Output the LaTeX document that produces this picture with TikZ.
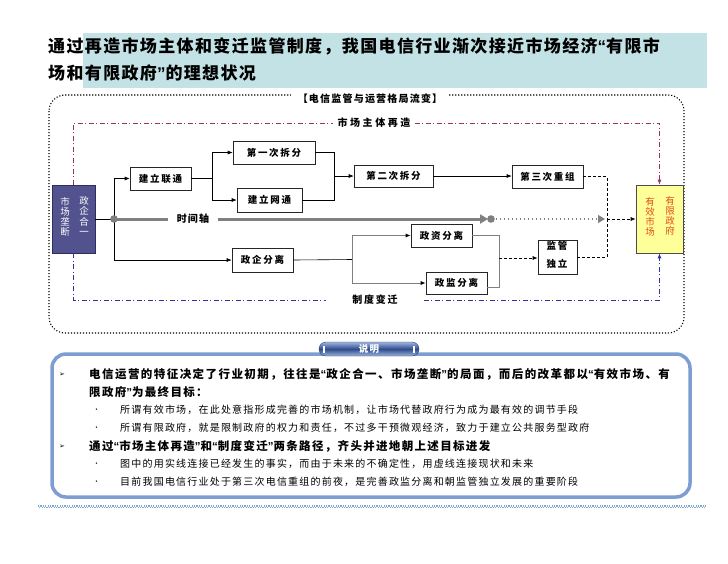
\documentclass[tikz,border=0pt]{standalone}
\usepackage{fontspec}
\setmainfont{Noto Sans CJK SC}
\newfontfamily\fTitle[LetterSpace=8]{Noto Sans CJK SC}
\newfontfamily\fBox[LetterSpace=18]{Noto Sans CJK SC}
\newfontfamily\fWide[LetterSpace=26]{Noto Sans CJK SC}
\newfontfamily\fHead[LetterSpace=12]{Noto Sans CJK SC}
\newfontfamily\fBoldA[LetterSpace=12.5]{Noto Sans CJK SC}
\newfontfamily\fBoldB[LetterSpace=11.5]{Noto Sans CJK SC}
\newfontfamily\fSub[LetterSpace=12]{Noto Sans CJK SC}
\newfontfamily\fPlain{Noto Sans CJK SC}
\newfontfamily\fSym{DejaVu Sans}
\newfontfamily\fQuote{Liberation Sans}
\newcommand{\myqo}{{\fQuote “}}
\newcommand{\myqc}{{\fQuote ”}}
\usetikzlibrary{arrows.meta}
\definecolor{titlebar}{HTML}{C3E2E6}
\definecolor{monofill}{HTML}{52528E}
\definecolor{monodraw}{HTML}{2E2E5E}
\definecolor{goalfill}{HTML}{FFFF99}
\definecolor{goaltext}{HTML}{E04A1A}
\definecolor{pline}{HTML}{993366}
\definecolor{bline}{HTML}{333399}
\definecolor{boxblue}{HTML}{7E9DD3}
\definecolor{pilltop}{HTML}{9FB4DE}
\definecolor{pillmid}{HTML}{2F4C8C}
\definecolor{lineblue}{HTML}{7FAAD8}
\definecolor{axisgray}{HTML}{808080}
\tikzset{
  box/.style={draw=black!85, fill=white, line width=0.6pt, inner sep=0pt,
    font=\fBox\bfseries\fontsize{9.5}{11}\selectfont},
  arr/.style={-{Latex[length=5pt,width=4pt]}, line width=0.6pt},
  garr/.style={draw=axisgray, line width=0.8pt, -{Latex[length=5pt,width=4pt,color=black]}},
  gline/.style={draw=axisgray, line width=0.8pt},
  dline/.style={dashed, dash pattern=on 3pt off 2pt, line width=0.7pt},
  dd/.style={line width=0.9pt, dash pattern=on 5pt off 2.5pt on 1pt off 2.5pt},
  framedot/.style={line width=1.1pt, dash pattern=on 1.1pt off 1.9pt, line cap=butt},
  vtext/.style={inner sep=0pt, align=center, font=\fPlain\fontsize{9.5}{10.2}\selectfont},
  ltext/.style={anchor=west, inner sep=0pt},
}
\begin{document}
\begin{tikzpicture}[x=1pt,y=-1pt]
\useasboundingbox (0,0) rectangle (728,563);
\fill[white] (0,0) rectangle (728,563);

% title
\fill[titlebar] (83,33) rectangle (707,88);
\node[ltext, font=\fTitle\bfseries\fontsize{17}{20}\selectfont] (t1) at (48,46) {通过再造市场主体和变迁监管制度，我国电信行业渐次接近市场经济\myqo 有限市};
\node[ltext, font=\fTitle\bfseries\fontsize{17}{20}\selectfont] (t2) at (48,73) {场和有限政府\myqc 的理想状况};

% outer frame
\draw[framedot, rounded corners=16pt] (49,95) rectangle (684,333);
\node[fill=white, inner xsep=7pt, inner ysep=1pt, font=\fHead\bfseries\fontsize{10}{12}\selectfont] (head) at (370,99) {【电信监管与运营格局流变】};

% start and goal
\node[draw=monodraw, fill=monofill, line width=0.6pt, minimum width=43pt, minimum height=68pt, inner sep=0pt] (mono) at (73.5,219) {};
\node[vtext, text=white] (mono1) at (65,217) {市\\场\\垄\\断};
\node[vtext, text=white] (mono2) at (84,216) {政\\企\\合\\一};
\node[draw=black!70, fill=goalfill, line width=0.6pt, minimum width=47pt, minimum height=68pt, inner sep=0pt] (goal) at (659.5,219) {};
\node[vtext, text=goaltext] (goal1) at (650,217) {有\\效\\市\\场};
\node[vtext, text=goaltext] (goal2) at (670,216) {有\\限\\政\\府};

% path labels and dash-dot frames
\node[inner xsep=4pt, inner ysep=1pt, font=\fWide\bfseries\fontsize{10}{12}\selectfont] (m1) at (374,123) {市场主体再造};
\node[inner xsep=26pt, inner ysep=1pt, font=\fBox\bfseries\fontsize{10}{12}\selectfont] (m2) at (375,300) {制度变迁};
\draw[dd, pline] (mono.north) |- (m1.west);
\draw[dd, pline, -{Latex[length=5pt,width=4pt]}] (m1.east) -| (goal.north);
\draw[dd, bline] (mono.south) |- (m2.west);
\draw[dd, bline, -{Latex[length=5pt,width=4pt]}] (m2.east) -| (goal.south);

% boxes
\node[box, minimum width=61pt, minimum height=23pt] (link) at (160.5,178.5) {建立联通};
\node[box, minimum width=82pt, minimum height=23pt] (split1) at (274,152.5) {第一次拆分};
\node[box, minimum width=65pt, minimum height=24pt] (net) at (269.5,200) {建立网通};
\node[box, minimum width=79pt, minimum height=22pt] (split2) at (393.5,176) {第二次拆分};
\node[box, minimum width=71pt, minimum height=23pt] (reorg) at (547.5,176.5) {第三次重组};
\node[box, minimum width=61pt, minimum height=24pt] (sep1) at (262.5,260) {政企分离};
\node[box, minimum width=61pt, minimum height=23pt] (sep2) at (441.5,235.5) {政资分离};
\node[box, minimum width=61pt, minimum height=22pt] (sep3) at (456.5,283) {政监分离};
\node[box, minimum width=39pt, minimum height=34pt] (indep) at (557.5,257) {};
\node[inner sep=0pt, font=\fBox\bfseries\fontsize{9.5}{11}\selectfont] (indep1) at (557,246) {监管};
\node[inner sep=0pt, font=\fBox\bfseries\fontsize{9.5}{11}\selectfont] (indep2) at (557,264) {独立};

% junctions
\coordinate (dot) at (114,219);
\coordinate (b1) at (212,178.5);
\coordinate (b2) at (334,176);
\coordinate (b3) at (352,259.5);
\coordinate (b4) at (499,258);
\coordinate (j) at (607,219);
\coordinate (dot2) at (491,219);

% solid connectors
\draw[line width=0.6pt] (mono.east) -- (dot);
\draw[arr] (dot) |- (link.west);
\draw[arr] (dot) |- (sep1.west);
\draw[line width=0.6pt] (link.east) -- (b1);
\draw[arr] (b1) |- (split1.west);
\draw[arr] (b1) |- (net.west);
\draw[line width=0.6pt] (split1.east) -| (b2);
\draw[line width=0.6pt] (net.east) -| (b2);
\draw[arr] (b2) -- (split2.west);
\draw[arr] (split2.east) -- (split2.east -| reorg.west);
\draw[line width=0.6pt] (sep1.east) -- (b3);
\draw[garr] (b3) |- (sep2.west);
\draw[garr] (b3) |- (sep3.west);
\draw[gline] (sep2.east) -| (b4);
\draw[gline] ([yshift=-4pt]sep3.east) -| (b4);

% dashed (future) connectors
\draw[dline] (reorg.east) -| (j);
\draw[dline] (indep.east) -| (j);
\draw[dline, -{Latex[length=5pt,width=4pt]}] (j) -- (goal.west);
\draw[dline, -{Latex[length=5pt,width=4pt]}] (b4) -- (b4 -| indep.west);

% time axis
\node[inner xsep=9pt, inner ysep=1pt, font=\fSub\bfseries\fontsize{10}{12}\selectfont] (axis) at (193,219) {时间轴};
\draw[axisgray, line width=3pt] (dot) -- (axis.west);
\draw[axisgray, line width=3pt, -{Triangle[length=8pt,width=9pt]}] (axis.east) -- ([xshift=-3pt]dot2);
\fill[axisgray] (dot) circle (3.8pt);
\fill[axisgray] (dot2) circle (3.8pt);
\draw[axisgray, line width=1.3pt, dash pattern=on 1.3pt off 2.7pt, -{Triangle[length=7pt,width=8pt,fill=axisgray]}] ([xshift=5pt]dot2) -- ([xshift=-2pt]j);

% explanation box
\draw[boxblue, line width=3.5pt, rounded corners=14pt] (52,354) rectangle (690,497);
\node[rounded corners=7pt, minimum width=100pt, minimum height=14pt, inner sep=0pt,
  top color=pilltop, bottom color=pilltop, middle color=pillmid, draw=pillmid!80!black, line width=0.4pt,
  text=white, font=\fSub\bfseries\fontsize{9.5}{11}\selectfont] (note) at (369,349) {说明};
\fill[white] ([xshift=4pt,yshift=-3.5pt]note.west) rectangle ([xshift=6.5pt,yshift=3.5pt]note.west);
\fill[white] ([xshift=-4pt,yshift=-3.5pt]note.east) rectangle ([xshift=-6.5pt,yshift=3.5pt]note.east);

\node[ltext, font=\fSym\fontsize{7}{8}\selectfont] (a1) at (59,375) {➢};
\node[ltext, font=\fBoldA\bfseries\fontsize{11.5}{13}\selectfont] (l1) at (89,374) {电信运营的特征决定了行业初期，往往是\myqo 政企合一、市场垄断\myqc 的局面，而后的改革都以\myqo 有效市场、有};
\node[ltext, font=\fBoldB\bfseries\fontsize{11.5}{13}\selectfont] (l2) at (89,392) {限政府\myqc 为最终目标：};
\node[ltext, font=\fSym\fontsize{5}{6}\selectfont] (d1) at (95,410) {•};
\node[ltext, font=\fSub\fontsize{10}{12}\selectfont] (s1) at (120,410) {所谓有效市场，在此处意指形成完善的市场机制，让市场代替政府行为成为最有效的调节手段};
\node[ltext, font=\fSym\fontsize{5}{6}\selectfont] (d2) at (95,428) {•};
\node[ltext, font=\fSub\fontsize{10}{12}\selectfont] (s2) at (120,428) {所谓有限政府，就是限制政府的权力和责任，不过多干预微观经济，致力于建立公共服务型政府};
\node[ltext, font=\fSym\fontsize{7}{8}\selectfont] (a2) at (59,447) {➢};
\node[ltext, font=\fBoldB\bfseries\fontsize{11.5}{13}\selectfont] (l3) at (89,446) {通过\myqo 市场主体再造\myqc 和\myqo 制度变迁\myqc 两条路径，齐头并进地朝上述目标进发};
\node[ltext, font=\fSym\fontsize{5}{6}\selectfont] (d3) at (95,464) {•};
\node[ltext, font=\fSub\fontsize{10}{12}\selectfont] (s3) at (120,464) {图中的用实线连接已经发生的事实，而由于未来的不确定性，用虚线连接现状和未来};
\node[ltext, font=\fSym\fontsize{5}{6}\selectfont] (d4) at (95,482) {•};
\node[ltext, font=\fSub\fontsize{10}{12}\selectfont] (s4) at (120,482) {目前我国电信行业处于第三次电信重组的前夜，是完善政监分离和朝监管独立发展的重要阶段};

% bottom rule
\draw[lineblue, line width=1.2pt, dash pattern=on 1.2pt off 1.2pt] (38,506) -- (706,506);
\draw[lineblue, line width=1.2pt, dash pattern=on 1.2pt off 1.2pt, dash phase=1.2pt] (38,507.6) -- (706,507.6);
\end{tikzpicture}
\end{document}
